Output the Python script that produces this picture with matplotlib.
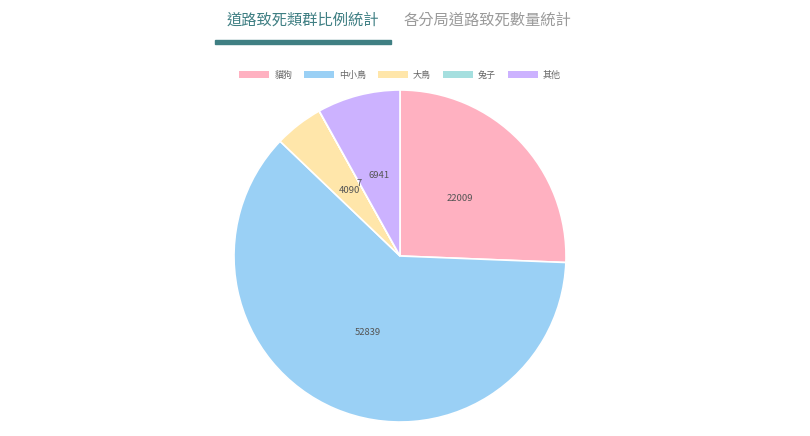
import math
import matplotlib.pyplot as plt
from matplotlib.patches import Patch, Rectangle

plt.rcParams['font.family'] = ['Noto Sans CJK TC', 'DejaVu Sans']

labels = ["貓狗", "中小鳥", "大鳥", "兔子", "其他"]
values = [22009, 52839, 4090, 7, 6941]
colors = ["#FFB1C1", "#9AD0F5", "#FFE6AA", "#A5DFDF", "#CCB2FF"]
tabs = ["道路致死類群比例統計", "各分局道路致死數量統計"]

W, H = 810, 436
fig = plt.figure(figsize=(W / 100, H / 100), dpi=100)

# tabs
fig.text(303 / W, 1 - 20 / H, tabs[0], ha="center", va="center",
         fontsize=11, color="#3f7f83")
fig.text(487 / W, 1 - 20 / H, tabs[1], ha="center", va="center",
         fontsize=11, color="#9a9a9a")
fig.patches.append(Rectangle((215 / W, 1 - 44 / H), 176 / W, 4 / H,
                             transform=fig.transFigure, color="#3f7f83"))

# pie
cx, cy, r = 400, 256, 166
ax = fig.add_axes([(cx - r) / W, (H - cy - r) / H, 2 * r / W, 2 * r / H])
wedges, _ = ax.pie(values, colors=colors, startangle=90, counterclock=False,
                   wedgeprops=dict(edgecolor="white", linewidth=1.2))
for w, v in zip(wedges, values):
    mid = math.radians((w.theta1 + w.theta2) / 2)
    ax.text(0.5 * math.cos(mid), 0.5 * math.sin(mid), str(v),
            ha="center", va="center", fontsize=6.8, color="#555555")
ax.set_xlim(-1, 1)
ax.set_ylim(-1, 1)

handles = [Patch(facecolor=c, edgecolor="none") for c in colors]
leg = fig.legend(handles, labels, loc="center", bbox_to_anchor=(400 / W, 1 - 75 / H),
                 ncol=5, frameon=False, fontsize=6.5, handlelength=3.3,
                 handleheight=0.8, handletextpad=0.6, columnspacing=1.3)
for t in leg.get_texts():
    t.set_color("#666666")

fig.savefig("out.png", dpi=100)
